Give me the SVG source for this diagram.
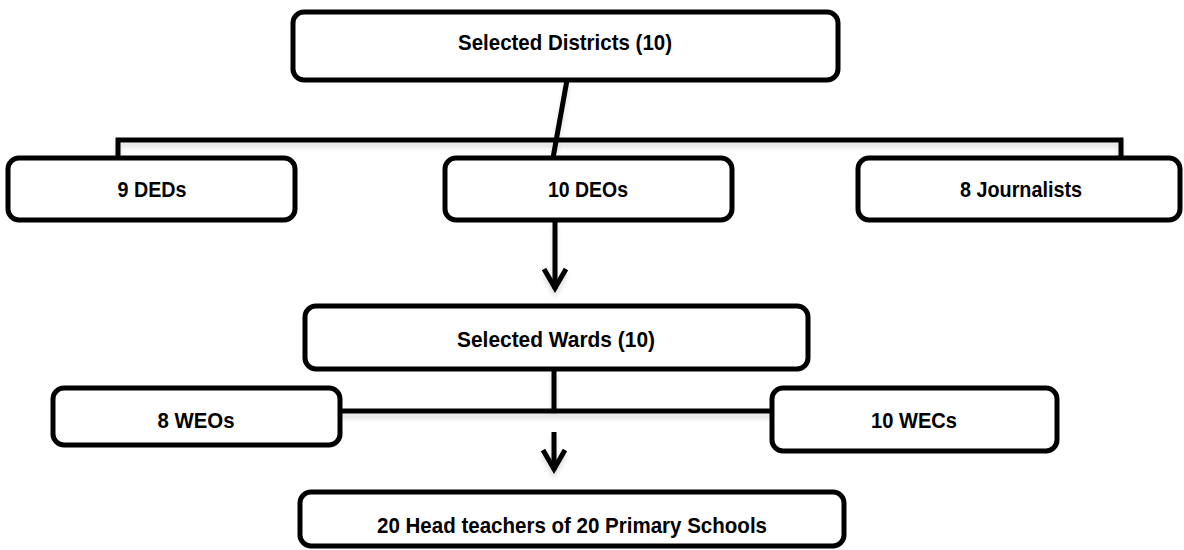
<svg xmlns="http://www.w3.org/2000/svg" width="1184" height="550" viewBox="0 0 1184 550">
  <style>
    .box { fill: #ffffff; stroke: #000000; stroke-width: 5; }
    .lbl { font-family: "Liberation Sans", Arial, sans-serif; font-weight: bold; font-size: 21.5px; fill: #000000; text-anchor: middle; }
    .con { fill: none; stroke: #000000; stroke-width: 5; }
  </style>
  <defs>
    <filter id="sh" x="-5%" y="-50%" width="110%" height="200%">
      <feDropShadow dx="0" dy="5" stdDeviation="2" flood-color="#000000" flood-opacity="0.12"/>
    </filter>
    <marker id="arr" markerUnits="userSpaceOnUse" viewBox="-26 -16 30 32" refX="0" refY="0" markerWidth="30" markerHeight="32" orient="auto">
      <path d="M-20,-11 L-1,0 L-20,11" fill="none" stroke="#000000" stroke-width="5" stroke-linejoin="miter"/>
    </marker>
  </defs>

  <g id="connectors" filter="url(#sh)">
    <line class="con" x1="567" y1="80" x2="553" y2="158"/>
    <polyline class="con" points="118,158 118,140 1121,140 1121,158"/>
    <line class="con" x1="555" y1="221" x2="555" y2="289" marker-end="url(#arr)"/>
    <line class="con" x1="554" y1="369" x2="554" y2="411"/>
    <line class="con" x1="340" y1="411" x2="772" y2="411"/>
    <line class="con" x1="554" y1="432" x2="554" y2="470" marker-end="url(#arr)"/>
  </g>

  <g id="node-districts">
    <rect class="box" x="293" y="12" width="545" height="68" rx="11"/>
    <text class="lbl" x="565" y="50" textLength="214" lengthAdjust="spacingAndGlyphs">Selected Districts (10)</text>
  </g>
  <g id="node-deds">
    <rect class="box" x="8" y="158" width="287" height="62" rx="11"/>
    <text class="lbl" x="152" y="197" textLength="69" lengthAdjust="spacingAndGlyphs">9 DEDs</text>
  </g>
  <g id="node-deos">
    <rect class="box" x="445" y="158" width="287" height="62" rx="11"/>
    <text class="lbl" x="588" y="197" textLength="80" lengthAdjust="spacingAndGlyphs">10 DEOs</text>
  </g>
  <g id="node-journalists">
    <rect class="box" x="858" y="158" width="322" height="62" rx="11"/>
    <text class="lbl" x="1021" y="197" textLength="122" lengthAdjust="spacingAndGlyphs">8 Journalists</text>
  </g>
  <g id="node-wards">
    <rect class="box" x="305" y="306" width="503" height="63" rx="11"/>
    <text class="lbl" x="556" y="347" textLength="198" lengthAdjust="spacingAndGlyphs">Selected Wards (10)</text>
  </g>
  <g id="node-weos">
    <rect class="box" x="53" y="388" width="287" height="57" rx="11"/>
    <text class="lbl" x="196" y="428" textLength="77" lengthAdjust="spacingAndGlyphs">8 WEOs</text>
  </g>
  <g id="node-wecs">
    <rect class="box" x="772" y="388" width="285" height="63" rx="11"/>
    <text class="lbl" x="914" y="428" textLength="86" lengthAdjust="spacingAndGlyphs">10 WECs</text>
  </g>
  <g id="node-headteachers">
    <rect class="box" x="300" y="492" width="544" height="54" rx="11"/>
    <text class="lbl" x="572" y="533" textLength="390" lengthAdjust="spacingAndGlyphs">20 Head teachers of 20 Primary Schools</text>
  </g>
</svg>
